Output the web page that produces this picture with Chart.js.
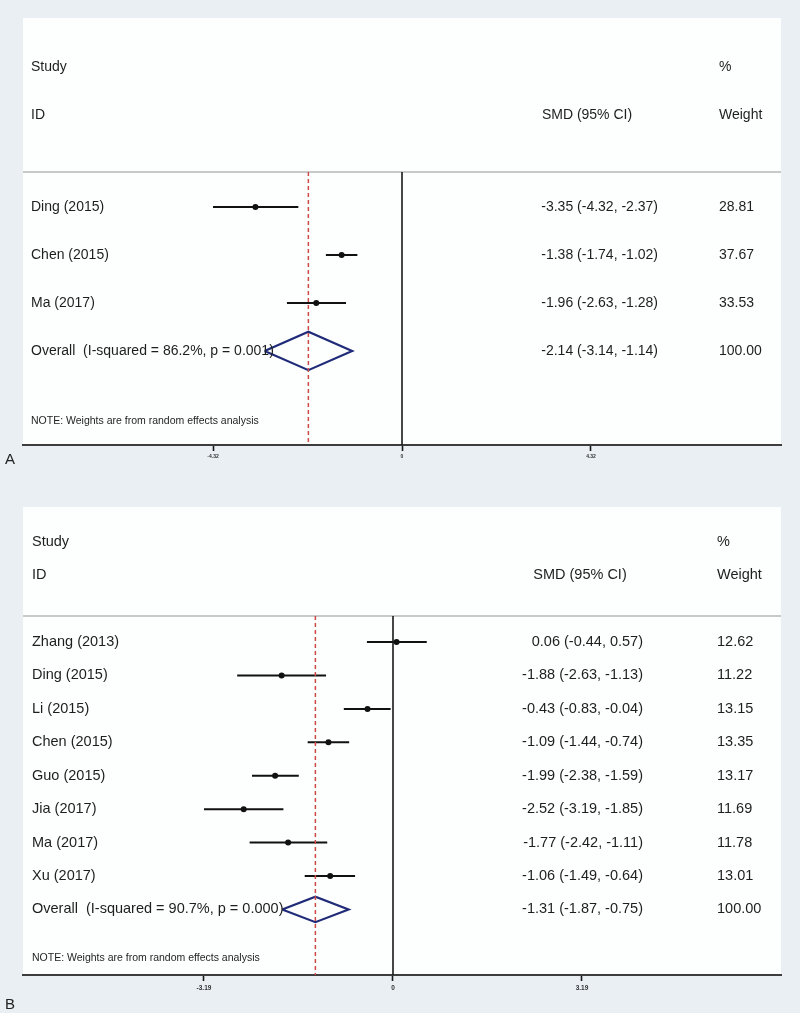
<!DOCTYPE html>
<html><head><meta charset="utf-8">
<script src="https://cdn.jsdelivr.net/npm/chart.js@4"></script>
<style>
html,body{margin:0;padding:0;background:#e9eff2;width:800px;height:1013px;overflow:hidden;font-family:"Liberation Sans",Arial,sans-serif}
canvas{position:absolute;left:0}
#cA{top:0}
#cB{top:500px}
.lab{position:absolute;font:15px "Liberation Sans Narrow","Liberation Sans",Arial,sans-serif;color:#222}
</style></head><body>
<canvas id="cA" width="800" height="500"></canvas>
<canvas id="cB" width="800" height="513"></canvas>
<div class="lab" style="left:5px;top:450px">A</div>
<div class="lab" style="left:5px;top:995px">B</div>
<script>
// ---- Panel A data ----
const studiesA = ["Ding (2015)", "Chen (2015)", "Ma (2017)"];
const smdA = [-3.35, -1.38, -1.96];
const lowA = [-4.32, -1.74, -2.63];
const highA = [-2.37, -1.02, -1.28];
const weightA = [28.81, 37.67, 33.53];
const overallA = { est: -2.14, low: -3.14, high: -1.14, weight: 100.00 };
const overallLabelA = "Overall  (I-squared = 86.2%, p = 0.001)";
const ticksA = [-4.32, 0, 4.32];

// ---- Panel B data ----
const studiesB = ["Zhang (2013)", "Ding (2015)", "Li (2015)", "Chen (2015)", "Guo (2015)", "Jia (2017)", "Ma (2017)", "Xu (2017)"];
const smdB = [0.06, -1.88, -0.43, -1.09, -1.99, -2.52, -1.77, -1.06];
const lowB = [-0.44, -2.63, -0.83, -1.44, -2.38, -3.19, -2.42, -1.49];
const highB = [0.57, -1.13, -0.04, -0.74, -1.59, -1.85, -1.11, -0.64];
const weightB = [12.62, 11.22, 13.15, 13.35, 13.17, 11.69, 11.78, 13.01];
const overallB = { est: -1.31, low: -1.87, high: -0.75, weight: 100.00 };
const overallLabelB = "Overall  (I-squared = 90.7%, p = 0.000)";
const ticksB = [-3.19, 0, 3.19];

const NOTE = "NOTE: Weights are from random effects analysis";
const FONT = '"Liberation Sans", Arial, sans-serif';

function fmtCI(e, l, h) { return e.toFixed(2) + " (" + l.toFixed(2) + ", " + h.toFixed(2) + ")"; }

function buildPanel(canvasId, p) {
  const n = p.studies.length;
  const ovRow = n + 1;
  const datasets = [];
  // zero line
  datasets.push({ data: [{ x: 0, y: p.sepRow }, { x: 0, y: p.yMax }], showLine: true, borderColor: '#1a1a1a', borderWidth: 1.6, pointRadius: 0 });
  // overall dashed line
  datasets.push({ data: [{ x: p.overall.est, y: p.sepRow }, { x: p.overall.est, y: p.yMax }], showLine: true, borderColor: '#cc4b47', borderWidth: 1.5, borderDash: [4, 3], pointRadius: 0 });
  // CI lines
  for (let i = 0; i < n; i++) {
    datasets.push({ data: [{ x: p.low[i], y: i + 1 }, { x: p.high[i], y: i + 1 }], showLine: true, borderColor: '#111', borderWidth: 2, pointRadius: 0 });
  }
  // point estimates
  datasets.push({ data: p.smd.map((v, i) => ({ x: v, y: i + 1 })), showLine: false, pointRadius: 3, pointBackgroundColor: '#111', pointBorderColor: '#111', pointBorderWidth: 0 });
  // diamond
  const o = p.overall, hh = p.diamondHalf;
  datasets.push({ data: [{ x: o.low, y: ovRow }, { x: o.est, y: ovRow - hh }, { x: o.high, y: ovRow }, { x: o.est, y: ovRow + hh }, { x: o.low, y: ovRow }], showLine: true, borderColor: '#1f2b78', borderWidth: 2.2, pointRadius: 0, tension: 0 });

  const plugin = {
    id: 'forest_' + canvasId,
    beforeDraw(chart) {
      const a = chart.chartArea, c = chart.ctx;
      c.save();
      c.fillStyle = '#fdfefe';
      c.fillRect(a.left, a.top, a.right - a.left, a.bottom - a.top);
      const y = chart.scales.y.getPixelForValue(p.sepRow);
      c.strokeStyle = '#c7cacb'; c.lineWidth = 2;
      c.beginPath(); c.moveTo(a.left, y); c.lineTo(a.right, y); c.stroke();
      c.restore();
    },
    afterDatasetsDraw(chart) {
      const c = chart.ctx, ys = chart.scales.y;
      c.save();
      c.fillStyle = '#1e1e1e';
      c.textBaseline = 'middle';
      c.font = p.fontSize + 'px ' + FONT;
      // headers
      c.textAlign = 'left';
      c.fillText('Study', p.xLabel, ys.getPixelForValue(p.studyRow));
      c.fillText('ID', p.xLabel, ys.getPixelForValue(p.idRow));
      c.fillText('%', p.xWeight, ys.getPixelForValue(p.studyRow));
      c.fillText('Weight', p.xWeight, ys.getPixelForValue(p.idRow));
      c.textAlign = 'center';
      c.fillText('SMD (95% CI)', p.xSmdHead, ys.getPixelForValue(p.idRow));
      // rows
      for (let i = 0; i < n; i++) {
        const y = ys.getPixelForValue(i + 1);
        c.textAlign = 'left';
        c.fillText(p.studies[i], p.xLabel, y);
        c.fillText(p.weight[i].toFixed(2), p.xWeight, y);
        c.textAlign = 'right';
        c.fillText(fmtCI(p.smd[i], p.low[i], p.high[i]), p.xSmdRight, y);
      }
      const yo = ys.getPixelForValue(ovRow);
      c.textAlign = 'left';
      c.fillText(p.overallLabel, p.xLabel, yo);
      c.fillText(o.weight.toFixed(2), p.xWeight, yo);
      c.textAlign = 'right';
      c.fillText(fmtCI(o.est, o.low, o.high), p.xSmdRight, yo);
      // note
      c.textAlign = 'left';
      c.font = p.noteSize + 'px ' + FONT;
      c.fillText(NOTE, p.xLabel, ys.getPixelForValue(p.noteRow));
      c.restore();
    }
  };

  return new Chart(document.getElementById(canvasId), {
    type: 'scatter',
    data: { datasets },
    plugins: [plugin],
    options: {
      responsive: false, animation: false, devicePixelRatio: 1,
      layout: { padding: { left: 23, right: 19, top: p.padTop, bottom: p.padBottom } },
      plugins: { legend: { display: false }, tooltip: { enabled: false } },
      scales: {
        x: {
          type: 'linear', min: p.xMin, max: p.xMax,
          afterBuildTicks(s) { s.ticks = p.ticks.map(v => ({ value: v })); },
          afterFit(s) { s.height = p.axisH; },
          border: { display: true, color: '#3d3d3d', width: 2 },
          grid: { drawOnChartArea: false, drawTicks: true, tickLength: 6, tickColor: '#1a1a1a', tickWidth: 1.6 },
          ticks: { autoSkip: false, maxRotation: 0, padding: 3, color: '#333', font: { size: p.tickSize, family: FONT, weight: 'bold' },
                   callback: v => (v === 0 ? '0' : Number(v).toFixed(2)) }
        },
        y: { type: 'linear', display: false, reverse: true, min: p.yMin, max: p.yMax }
      }
    }
  });
}

buildPanel('cA', {
  studies: studiesA, smd: smdA, low: lowA, high: highA, weight: weightA, overall: overallA,
  overallLabel: overallLabelA, ticks: ticksA,
  xMin: -8.663, xMax: 8.663, yMin: -2.94, yMax: 5.96,
  studyRow: -1.92, idRow: -0.92, sepRow: 0.27, noteRow: 5.46, diamondHalf: 0.40,
  padTop: 18, padBottom: 5, axisH: 50,
  xLabel: 31, xSmdRight: 658, xSmdHead: 587, xWeight: 719,
  fontSize: 14, noteSize: 10.5, tickSize: 5
});

buildPanel('cB', {
  studies: studiesB, smd: smdB, low: lowB, high: highB, weight: weightB, overall: overallB,
  overallLabel: overallLabelB, ticks: ticksB,
  xMin: -6.245, xMax: 6.549, yMin: -3.04, yMax: 10.96,
  studyRow: -1.99, idRow: -1.0, sepRow: 0.22, noteRow: 10.45, diamondHalf: 0.38,
  padTop: 7, padBottom: 5, axisH: 33,
  xLabel: 32, xSmdRight: 643, xSmdHead: 580, xWeight: 717,
  fontSize: 14.5, noteSize: 10.5, tickSize: 6.5
});
</script>
</body></html>
